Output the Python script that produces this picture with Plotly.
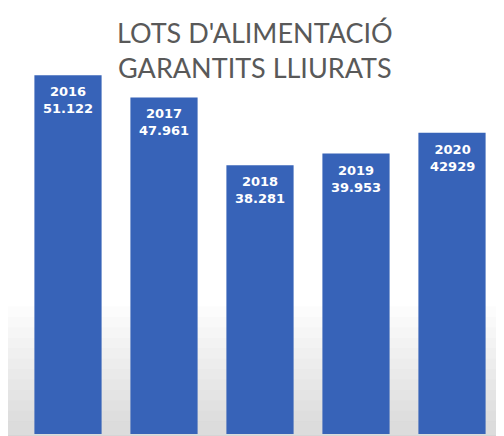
import plotly.graph_objects as go

years = ["2016", "2017", "2018", "2019", "2020"]
lots = [51122, 47961, 38281, 39953, 42929]
value_labels = ["51.122", "47.961", "38.281", "39.953", "42929"]

BAR_COLOR = "#3763B8"

fig = go.Figure(
    go.Bar(
        x=years,
        y=lots,
        width=0.7,
        marker=dict(color=BAR_COLOR, line=dict(width=0)),
    )
)

# labels sit inside the top of each bar
annotations = [
    dict(
        x=i, y=v, xref="x", yref="y",
        text=f"<b>{y}<br>{lab}</b>",
        xanchor="center", yanchor="top", yshift=-7,
        showarrow=False, align="center",
        font=dict(family="DejaVu Sans", size=13, color="white"),
    )
    for i, (y, v, lab) in enumerate(zip(years, lots, value_labels))
]
annotations.append(dict(
    text="LOTS D'ALIMENTACIÓ<br>GARANTITS LLIURATS",
    xref="paper", yref="paper", x=0.489, y=0.995,
    xanchor="center", yanchor="middle", showarrow=False,
    font=dict(family="Lato", size=27, color="#595959"),
))

# soft grey gradient towards the bottom of the chart area
shapes = []
steps = 12
for i in range(steps):
    shapes.append(dict(
        type="rect", xref="paper", yref="paper",
        x0=-0.03, x1=1.0, y0=-0.01, y1=0.33 - i * 0.027,
        fillcolor="rgba(150,150,150,0.03)", line=dict(width=0), layer="below",
    ))
# outer frame
shapes.append(dict(
    type="rect", xref="paper", yref="paper",
    x0=-0.032, x1=1.005, y0=-0.005, y1=1.115,
    line=dict(color="#d0d0d0", width=1), fillcolor="rgba(0,0,0,0)",
))

fig.update_layout(
    width=496,
    height=428,
    margin=dict(l=12, r=4, t=40, b=2),
    paper_bgcolor="white",
    plot_bgcolor="white",
    showlegend=False,
    bargap=0.3,
    xaxis=dict(visible=False, type="category", range=[-0.5, 4.5]),
    yaxis=dict(visible=False, range=[0, 55000]),
    shapes=shapes,
    annotations=annotations,
)

fig.write_html("out.html")
